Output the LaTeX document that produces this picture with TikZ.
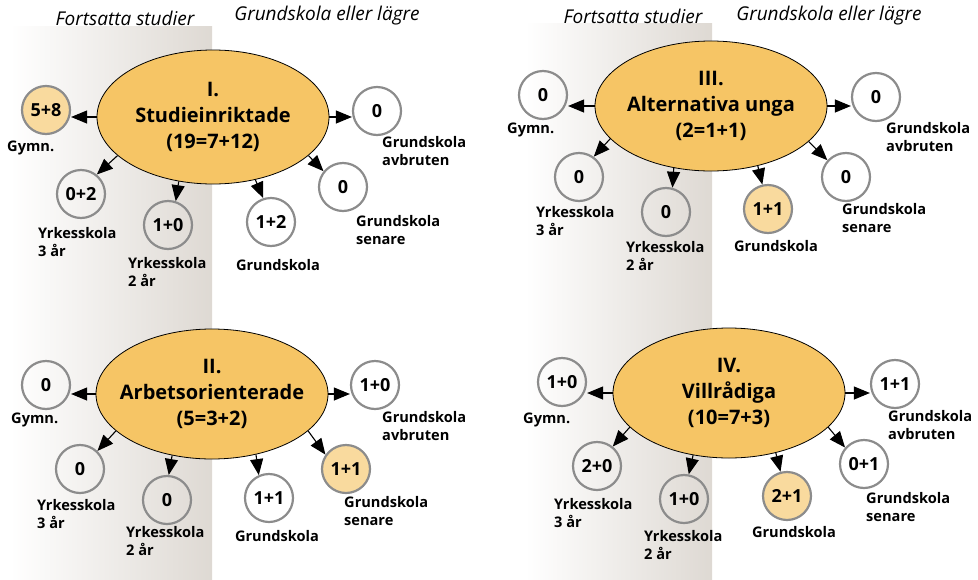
\documentclass[tikz,border=0pt]{standalone}
\usepackage{fontspec}
\setmainfont{Open Sans}
\usetikzlibrary{arrows.meta,shapes.geometric,calc}
\definecolor{ellfill}{RGB}{246,197,101}
\definecolor{hifill}{RGB}{249,218,158}
\definecolor{cgray}{RGB}{140,140,140}
\definecolor{bgr}{RGB}{222,217,211}
\begin{document}
\begin{tikzpicture}[x=1pt,y=-1pt,
  ell/.style={ellipse, draw=black, line width=0.8pt, fill=ellfill, minimum width=232pt, minimum height=130pt, inner sep=0pt},
  elltxt/.style={font=\fontsize{20}{26}\selectfont\bfseries, align=center},
  num/.style={circle, draw=cgray, line width=2.2pt, minimum size=48pt, inner sep=0pt, font=\fontsize{18}{20}\selectfont\bfseries},
  hi/.style={num, fill=hifill},
  lab/.style={font=\fontsize{14.6}{18}\selectfont\bfseries, align=left, anchor=north west, inner sep=0pt},
  labc/.style={lab, align=center, anchor=north},
  hdr/.style={font=\fontsize{19}{21}\selectfont\itshape, inner sep=0pt},
  arr/.style={-{Triangle[length=16pt,width=13pt]}, line width=1.1pt}]
\useasboundingbox (0,0) rectangle (978,579);
\shade[left color=white,right color=bgr] (10,26) rectangle (212,579);
\shade[left color=white,right color=bgr] (525,23) rectangle (712,579);
% headers
\node[hdr] (h1) at (125,18) {Fortsatta studier};
\node[hdr] (h2) at (327,16) {Grundskola eller lägre};
\node[hdr] (h3) at (633,16) {Fortsatta studier};
\node[hdr] (h4) at (829,16) {Grundskola eller lägre};

% ---------- Panel I ----------
\node[ell, minimum height=134pt, label={[elltxt]center:I.\\Studieinriktade\\(19=7+12)}] (E1) at (213,117) {};
\node[hi]  (G1) at (46,110) {5+8};
\node[num] (T1) at (81,194) {0+2};
\node[num] (W1) at (168,225) {1+0};
\node[num] (K1) at (271,222) {1+2};
\node[num] (S1) at (343,187) {0};
\node[num] (A1) at (377,111) {0};
\node[lab] (lg1) at (7,141) {Gymn.};
\node[lab] (lt1) at (38,227) {Yrkesskola\\3 år};
\node[lab] (lw1) at (128,257) {Yrkesskola\\2 år};
\node[labc] (lk1) at (278,259) {Grundskola};
\node[lab] (ls1) at (356,215) {Grundskola\\senare};
\node[lab] (la1) at (382,136) {Grundskola\\avbruten};
\draw[arr] (E1.west) -- (E1.west -| G1.east);
\draw[arr] (E1.east) -- (E1.east -| A1.west);
\draw[arr] (E1.202) -- (T1.51);
\draw[arr] (E1.242) -- (W1.72);
\draw[arr] (E1.304) -- (K1.108);
\draw[arr] (E1.338) -- (S1.141);

% ---------- Panel III ----------
\node[ell, label={[elltxt]center:III.\\Alternativa unga\\(2=1+1)}] (E3) at (711,106) {};
\node[num] (G3) at (543,95) {0};
\node[num] (T3) at (579,177) {0};
\node[num] (W3) at (666,212) {0};
\node[hi]  (K3) at (768,209) {1+1};
\node[num] (S3) at (846,177) {0};
\node[num] (A3) at (876,97) {0};
\node[lab] (lg3) at (507,123) {Gymn.};
\node[lab] (lt3) at (536,206) {Yrkesskola\\3 år};
\node[lab] (lw3) at (626,241) {Yrkesskola\\2 år};
\node[labc] (lk3) at (776,240) {Grundskola};
\node[lab] (ls3) at (842,203) {Grundskola\\senare};
\node[lab] (la3) at (886,122) {Grundskola\\avbruten};
\draw[arr] (E3.west) -- (E3.west -| G3.east);
\draw[arr] (E3.east) -- (E3.east -| A3.west);
\draw[arr] (E3.198) -- (T3.54);
\draw[arr] (E3.239) -- (W3.75);
\draw[arr] (E3.308) -- (K3.103);
\draw[arr] (E3.340) -- (S3.138);

% ---------- Panel II ----------
\node[ell, label={[elltxt]center:II.\\Arbetsorienterade\\(5=3+2)}] (E2) at (212,394) {};
\node[num] (G2) at (46,385) {0};
\node[num] (T2) at (80,469) {0};
\node[num] (W2) at (167,500) {0};
\node[num] (K2) at (269,498) {1+1};
\node[hi]  (S2) at (346,469) {1+1};
\node[num] (A2) at (375,385) {1+0};
\node[lab] (lg2) at (11,413) {Gymn.};
\node[lab] (lt2) at (37,499) {Yrkesskola\\3 år};
\node[lab] (lw2) at (126,526) {Yrkesskola\\2 år};
\node[labc] (lk2) at (277,530) {Grundskola};
\node[lab] (ls2) at (344,496) {Grundskola\\senare};
\node[lab] (la2) at (382,411) {Grundskola\\avbruten};
\draw[arr] (E2.west) -- (E2.west -| G2.east);
\draw[arr] (E2.east) -- (E2.east -| A2.west);
\draw[arr] (E2.201) -- (T2.46);
\draw[arr] (E2.237) -- (W2.86);
\draw[arr] (E2.306) -- (K2.114);
\draw[arr] (E2.339) -- (S2.145);

% ---------- Panel IV ----------
\node[ell, label={[elltxt]center:IV.\\Villrådiga\\(10=7+3)}] (E4) at (729,393) {};
\node[num] (G4) at (562,382) {1+0};
\node[num] (T4) at (597,466) {2+0};
\node[num] (W4) at (684,499) {1+0};
\node[hi]  (K4) at (787,496) {2+1};
\node[num] (S4) at (864,464) {0+1};
\node[num] (A4) at (895,384) {1+1};
\node[lab] (lg4) at (523,413) {Gymn.};
\node[lab] (lt4) at (554,498) {Yrkesskola\\3 år};
\node[lab] (lw4) at (644,530) {Yrkesskola\\2 år};
\node[labc] (lk4) at (794,526) {Grundskola};
\node[lab] (ls4) at (866,492) {Grundskola\\senare};
\node[lab] (la4) at (888,410) {Grundskola\\avbruten};
\draw[arr] (E4.west) -- (E4.west -| G4.east);
\draw[arr] (E4.east) -- (E4.east -| A4.west);
\draw[arr] (E4.199) -- (T4.51);
\draw[arr] (E4.240) -- (W4.79);
\draw[arr] (E4.308) -- (K4.105);
\draw[arr] (E4.341) -- (S4.139);
\end{tikzpicture}
\end{document}
